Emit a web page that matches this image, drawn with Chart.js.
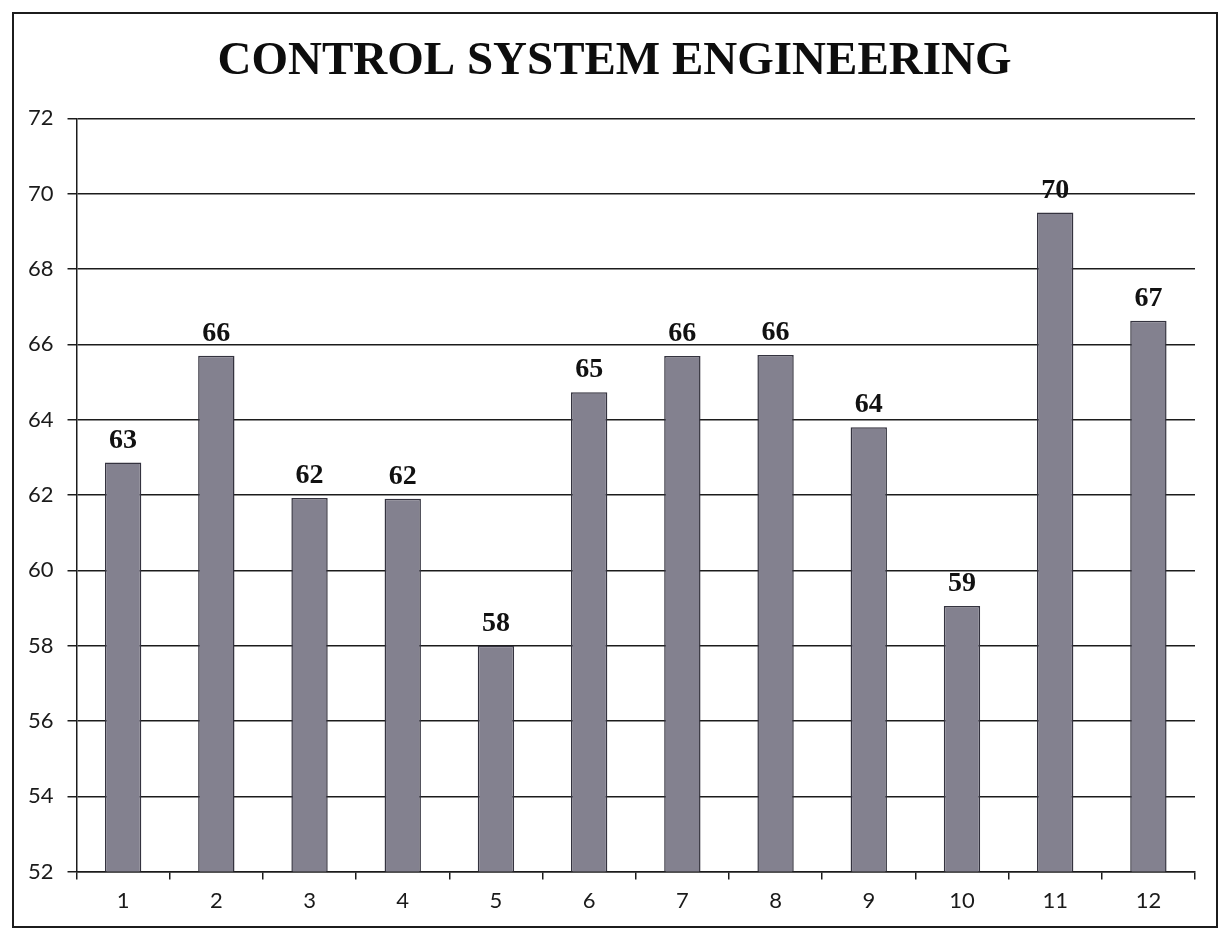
<!DOCTYPE html>
<html>
<head>
<meta charset="utf-8">
<title>Control System Engineering</title>
<script src="https://cdn.jsdelivr.net/npm/chart.js@4.4.1/dist/chart.umd.min.js"></script>
<style>
  html, body { margin: 0; padding: 0; background: #ffffff; }
  body { width: 1228px; height: 941px; position: relative; overflow: hidden; }
  #frame {
    position: absolute; left: 12px; top: 12px;
    width: 1202px; height: 912px;
    border: 2px solid #1c1c1c;
    background: #ffffff;
  }
  #chart { display: block; }
</style>
</head>
<body>
<div id="frame"><canvas id="chart" width="1202" height="912"></canvas></div>
<script>
// Chart text and values
const chartTitle = 'CONTROL SYSTEM ENGINEERING';
const categories = ['1', '2', '3', '4', '5', '6', '7', '8', '9', '10', '11', '12'];
const scores = [62.86, 65.70, 61.92, 61.90, 58.00, 64.73, 65.69, 65.72, 63.80, 59.05, 69.50, 66.63];
const yTicks = [52, 54, 56, 58, 60, 62, 64, 66, 68, 70, 72];

const LEFT_PAD = 20;

// Writes each bar's rounded value above it
const valueLabels = {
  id: 'valueLabels',
  afterDatasetsDraw(chart) {
    const ctx = chart.ctx;
    const meta = chart.getDatasetMeta(0);
    const data = chart.data.datasets[0].data;
    ctx.save();
    ctx.font = 'bold 28px "Liberation Serif", "Times New Roman", serif';
    ctx.fillStyle = '#111111';
    ctx.textAlign = 'center';
    ctx.textBaseline = 'alphabetic';
    meta.data.forEach((bar, i) => {
      ctx.fillText(String(Math.round(data[i])), bar.x, bar.y - 15);
    });
    ctx.restore();
  }
};

// Lets the y tick labels extend into the left padding without being clipped
const widenYAxis = {
  id: 'widenYAxis',
  afterLayout(chart) {
    chart.scales.y.left -= LEFT_PAD;
  }
};

new Chart(document.getElementById('chart'), {
  type: 'bar',
  data: {
    labels: categories,
    datasets: [{
      data: scores,
      backgroundColor: '#83818f',
      borderColor: '#34333f',
      borderWidth: 1.5,
      barPercentage: 0.39,
      categoryPercentage: 1.0
    }]
  },
  options: {
    responsive: false,
    animation: false,
    layout: { padding: { left: LEFT_PAD, right: 21, top: 0, bottom: 4 } },
    plugins: {
      legend: { display: false },
      tooltip: { enabled: false },
      title: {
        display: true,
        text: chartTitle,
        color: '#0d0d0d',
        font: { family: '"Liberation Serif", "Times New Roman", serif', size: 47, weight: 'bold' },
        padding: { top: 20, bottom: 28 }
      }
    },
    scales: {
      x: {
        grid: {
          display: true,
          drawOnChartArea: false,
          drawTicks: true,
          tickLength: 8,
          color: '#1c1c1c',
          lineWidth: 1.5,
          offset: true
        },
        border: { display: true, color: '#1c1c1c', width: 1.5 },
        ticks: {
          color: '#1a1a1a',
          padding: 8,
          font: { family: 'Lato, "Open Sans", sans-serif', size: 22 }
        }
      },
      y: {
        min: yTicks[0],
        max: yTicks[yTicks.length - 1],
        afterBuildTicks(scale) {
          scale.ticks = yTicks.map(v => ({ value: v }));
        },
        afterFit(scale) {
          scale.width -= LEFT_PAD;
        },
        grid: {
          color: '#1c1c1c',
          lineWidth: 1.5,
          drawTicks: true,
          tickLength: 9
        },
        border: { display: true, color: '#1c1c1c', width: 1.5 },
        ticks: {
          color: '#1a1a1a',
          padding: 14,
          font: { family: 'Lato, "Open Sans", sans-serif', size: 22 }
        }
      }
    }
  },
  plugins: [valueLabels, widenYAxis]
});
</script>
</body>
</html>
